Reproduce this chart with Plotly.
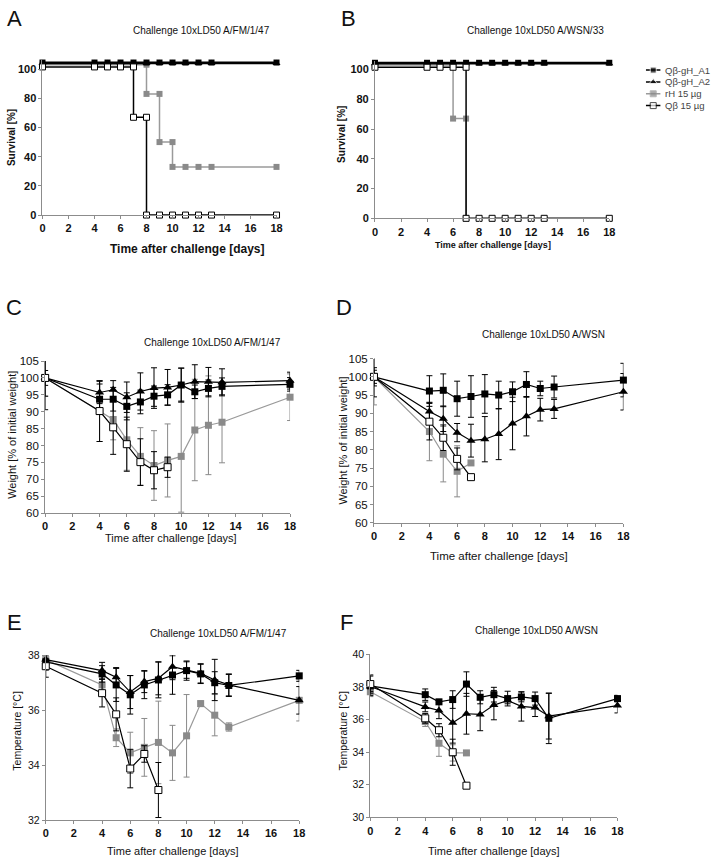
import plotly.graph_objects as go

W, H = 716, 868
FONT = "Liberation Sans, Arial, sans-serif"

SERIES = ["Qβ-gH_A1", "Qβ-gH_A2", "rH 15 µg", "Qβ 15 µg"]

DAYS = [0, 4, 5, 6, 7, 8, 9, 10, 11, 12, 13, 18]
X_TICKS = [0, 2, 4, 6, 8, 10, 12, 14, 16, 18]

# ---------------- Panel A: survival, A/FM/1/47 ----------------
sA_A1 = [104.5, 104.5, 104.5, 104.5, 104.5, 104.5, 104.5, 104.5, 104.5, 104.5, 104.5, 104.5]
sA_A2 = [104, 104, 104, 104, 104, 104, 104, 104, 104, 104, 104, 104]
sA_rH_days = [0, 4, 5, 6, 7, 8, 8, 9, 9, 10, 10, 11, 12, 13, 18]
sA_rH = [103, 103, 103, 103, 103, 103, 83, 83, 50, 50, 33, 33, 33, 33, 33]
sA_Qb_days = [0, 4, 5, 6, 7, 7, 8, 8, 9, 10, 11, 12, 13, 18]
sA_Qb = [101.5, 101.5, 101.5, 101.5, 101.5, 67, 67, 0, 0, 0, 0, 0, 0, 0]

# ---------------- Panel B: survival, A/WSN/33 ----------------
sB_A1 = [104.5, 104.5, 104.5, 104.5, 104.5, 104.5, 104.5, 104.5, 104.5, 104.5, 104.5, 104.5]
sB_A2 = [104, 104, 104, 104, 104, 104, 104, 104, 104, 104, 104, 104]
sB_rH_days = [0, 4, 5, 6, 6, 7, 7]
sB_rH = [103, 103, 103, 103, 67, 67, 0]
sB_Qb_days = [0, 4, 5, 6, 7, 7, 8, 9, 10, 11, 12, 13, 18]
sB_Qb = [101.5, 101.5, 101.5, 101.5, 101.5, 0, 0, 0, 0, 0, 0, 0, 0]

# ---------------- Panel C: weight, A/FM/1/47 ----------------
wC_A1 = [100, 93.7, 93.7, 91.6, 92.9, 94.6, 95.0, 97.9, 95.9, 96.9, 97.5, 98.1]
wC_A1_err = [2.2, 4.5, 3.5, 4.0, 3.5, 3.0, 3.0, 5.0, 2.0, 2.5, 2.5, 2.0]
wC_A2 = [100, 95.7, 96.5, 94.3, 96.0, 97.0, 97.2, 97.9, 98.9, 98.9, 98.7, 99.2]
wC_A2_err = [5.4, 3.3, 2.7, 4.5, 5.5, 6.0, 5.3, 5.0, 5.0, 4.2, 4.0, 2.5]
wC_rH = [100, 90.2, 87.7, 81.7, 76.8, 74.1, 75.6, 76.8, 84.6, 86.0, 86.9, 94.3]
wC_rH_err = [5.4, 9.0, 6.0, 9.0, 8.5, 10.3, 10.8, 16.5, 15.0, 14.6, 12.0, 6.9]
wC_Qb_days = [0, 4, 5, 6, 7, 8, 9]
wC_Qb = [100, 90.2, 85.4, 80.4, 75.1, 72.7, 73.6]
wC_Qb_err = [9.4, 9.0, 8.0, 8.0, 6.9, 5.5, 3.0]

# ---------------- Panel D: weight, A/WSN ----------------
wD_A1 = [100, 96.1, 96.3, 94.0, 94.6, 95.3, 95.0, 95.9, 97.9, 96.8, 97.2, 99.1]
wD_A1_err = [1.8, 4.2, 4.5, 4.8, 5.7, 5.3, 3.8, 2.7, 3.5, 2.0, 3.0, 4.6]
wD_A2 = [100, 90.5, 88.5, 84.7, 82.5, 82.9, 84.3, 87.2, 89.2, 91.0, 91.2, 95.9]
wD_A2_err = [5.5, 2.5, 3.5, 2.5, 4.5, 6.2, 7.0, 7.2, 5.4, 3.1, 2.6, 5.0]
wD_rH_days = [0, 4, 5, 6, 7]
wD_rH = [100, 85.0, 78.8, 74.1, 76.4]
wD_rH_err = [7.7, 8.0, 7.6, 7.0, 0]
wD_Qb_days = [0, 4, 5, 6, 7]
wD_Qb = [100, 87.7, 83.3, 77.5, 72.5]
wD_Qb_err = [2.5, 5.0, 3.5, 3.0, 0]

# ---------------- Panel E: temperature, A/FM/1/47 ----------------
tE_A1 = [37.76, 37.32, 36.92, 36.56, 36.92, 37.10, 37.28, 37.44, 37.32, 37.0, 36.9, 37.25]
tE_A1_err = [0.3, 0.3, 0.6, 0.7, 0.5, 0.65, 0.7, 0.35, 0.35, 0.4, 0.4, 0.2]
tE_A2 = [37.84, 37.44, 37.20, 36.66, 37.04, 37.16, 37.58, 37.46, 37.34, 37.1, 36.92, 36.36]
tE_A2_err = [0.2, 0.3, 0.35, 0.6, 0.4, 0.6, 0.47, 0.3, 0.35, 0.75, 0.4, 0.5]
tE_rH = [37.84, 36.92, 35.0, 34.45, 34.65, 34.83, 34.45, 35.07, 36.24, 35.82, 35.39, 36.36]
tE_rH_err = [0.2, 0.3, 0.32, 0.75, 1.05, 1.5, 1.0, 1.5, 0.1, 0.75, 0.15, 0.75]
tE_Qb_days = [0, 4, 5, 6, 7, 8]
tE_Qb = [37.6, 36.62, 35.85, 33.88, 34.41, 33.1]
tE_Qb_err = [0.4, 0.5, 0.6, 0.7, 0.3, 1.0]

# ---------------- Panel F: temperature, A/WSN ----------------
tF_A1 = [38.06, 37.52, 37.08, 37.22, 38.17, 37.36, 37.52, 37.28, 37.38, 37.28, 36.07, 37.28]
tF_A1_err = [0.6, 0.35, 0.15, 0.54, 0.75, 0.4, 0.45, 0.45, 0.3, 0.4, 1.55, 0.2]
tF_A2 = [38.02, 36.77, 36.55, 35.8, 36.35, 36.31, 36.88, 37.16, 36.8, 36.73, 36.2, 36.85]
tF_A2_err = [0.3, 0.3, 0.5, 1.25, 1.25, 1.0, 0.9, 0.2, 0.9, 0.55, 1.4, 0.45]
tF_rH_days = [0, 4, 5, 6, 7]
tF_rH = [37.7, 35.87, 34.54, 33.95, 33.95]
tF_rH_err = [0.3, 0.3, 0.8, 0.5, 0]
tF_Qb_days = [0, 4, 5, 6, 7]
tF_Qb = [38.17, 36.07, 35.34, 33.99, 31.94]
tF_Qb_err = [0.56, 0.3, 0.4, 0.8, 0]

BLACK = "#000000"
GRAY_M = "#8a8a8a"
GRAY_L = "#9a9a9a"
AXIS = "#8c8c8c"

STYLE = {
    0: dict(line=BLACK, marker=dict(symbol="square", size=7, color=BLACK), err=BLACK),
    1: dict(line=BLACK, marker=dict(symbol="triangle-up", size=8, color=BLACK), err=BLACK),
    2: dict(line=GRAY_L, marker=dict(symbol="square", size=7, color=GRAY_M), err=GRAY_M),
    3: dict(line=BLACK, marker=dict(symbol="square", size=7, color="white",
                                    line=dict(color=BLACK, width=1)), err=BLACK),
}

# panel geometry (pixels): x0,x1 of plot, y_top,y_bottom of plot
panels = [
    dict(letter="A", title="Challenge 10xLD50 A/FM/1/47", px=(40, 277), py=(55.1, 212),
         yr=(0, 106), yt=[0, 20, 40, 60, 80, 100], ytitle="Survival [%]",
         series=[(DAYS, sA_A1, None), (DAYS, sA_A2, None), (sA_rH_days, sA_rH, None), (sA_Qb_days, sA_Qb, None)],
         surv=True, tpos=(201, 25), lpos=(12, 13), xt=(187, 246, 12, True), yl=(8, 133, 10, True),
         ytf=(11, True)),
    dict(letter="B", title="Challenge 10xLD50 A/WSN/33", px=(376.7, 614), py=(55.3, 215.3),
         yr=(0, 106), yt=[0, 20, 40, 60, 80, 100], ytitle="Survival [%]",
         series=[(DAYS, sB_A1, None), (DAYS, sB_A2, None), (sB_rH_days, sB_rH, None), (sB_Qb_days, sB_Qb, None)],
         surv=True, tpos=(539, 25), lpos=(350, 13), xt=(496, 242, 9, True), yl=(343, 130, 10, True),
         ytf=(11, True)),
    dict(letter="C", title="Challenge 10xLD50 A/FM/1/47", px=(42.7, 290.7), py=(360, 514.3),
         yr=(60, 105), yt=[60, 65, 70, 75, 80, 85, 90, 95, 100, 105], ytitle="Weight [% of initial weight]",
         series=[(DAYS, wC_A1, wC_A1_err), (DAYS, wC_A2, wC_A2_err), (DAYS, wC_rH, wC_rH_err), (wC_Qb_days, wC_Qb, wC_Qb_err)],
         surv=False, tpos=(212, 341), lpos=(11, 306), xt=(170, 539, 11, False), yl=(9, 435, 11, False),
         ytf=(11.5, False)),
    dict(letter="D", title="Challenge 10xLD50 A/WSN", px=(375.7, 628.3), py=(357.5, 524),
         yr=(60, 105), yt=[60, 65, 70, 75, 80, 85, 90, 95, 100, 105], ytitle="Weight [% of initial weight]",
         series=[(DAYS, wD_A1, wD_A1_err), (DAYS, wD_A2, wD_A2_err), (wD_rH_days, wD_rH, wD_rH_err), (wD_Qb_days, wD_Qb, wD_Qb_err)],
         surv=False, tpos=(547, 333), lpos=(345, 306), xt=(502, 558, 11.5, False), yl=(344, 441, 11, False),
         ytf=(11.5, False)),
    dict(letter="E", title="Challenge 10xLD50 A/FM/1/47", px=(43.3, 300), py=(658.3, 825.7),
         yr=(32, 38), yt=[32, 34, 36, 38], ytitle="Temperature [°C]",
         series=[(DAYS, tE_A1, tE_A1_err), (DAYS, tE_A2, tE_A2_err), (DAYS, tE_rH, tE_rH_err), (tE_Qb_days, tE_Qb, tE_Qb_err)],
         surv=False, tpos=(218, 636), lpos=(12, 625), xt=(172, 857, 11, False), yl=(14, 735, 10.5, False),
         ytf=(10.5, False)),
    dict(letter="F", title="Challenge 10xLD50 A/WSN", px=(372, 622.3), py=(657.3, 822.7),
         yr=(30, 40), yt=[30, 32, 34, 36, 38, 40], ytitle="Temperature [°C]",
         series=[(DAYS, tF_A1, tF_A1_err), (DAYS, tF_A2, tF_A2_err), (tF_rH_days, tF_rH, tF_rH_err), (tF_Qb_days, tF_Qb, tF_Qb_err)],
         surv=False, tpos=(540, 633), lpos=(348, 625), xt=(497, 857, 11, False), yl=(344, 735, 10.5, False),
         ytf=(10.5, False)),
]

fig = go.Figure()
annotations = []
layout_axes = {}
DRAW_ORDER = [2, 1, 0, 3]  # rH, A2, A1, Qβ (Qβ on top)

for i, p in enumerate(panels):
    n = "" if i == 0 else str(i + 1)
    xa, ya = "x" + n, "y" + n
    for k in DRAW_ORDER:
        xs, ys, err = p["series"][k]
        st = STYLE[k]
        lw = 1.2
        if p["surv"]:
            lw = 2.2 if k in (0, 1) else 1.5
        tr = go.Scatter(
            x=xs, y=ys, mode="lines+markers", name=SERIES[k],
            xaxis=xa, yaxis=ya, cliponaxis=False,
            line=dict(color=st["line"], width=lw),
            marker=dict(st["marker"], size=st["marker"]["size"] - (1 if p["surv"] else 0)),
            showlegend=False,
        )
        if err is not None:
            tr.error_y = dict(type="data", array=err, symmetric=True, color=st["err"],
                              thickness=1, width=3, visible=True)
        fig.add_trace(tr)

    xd = [p["px"][0] / W, p["px"][1] / W]
    yd = [1 - p["py"][1] / H, 1 - p["py"][0] / H]
    axis_common = dict(showline=True, linecolor=AXIS, linewidth=1, ticks="outside",
                       ticklen=3, tickcolor=AXIS, tickwidth=1, showgrid=False, zeroline=False)
    layout_axes["xaxis" + n] = dict(axis_common, domain=xd, range=[0, 18], tickvals=X_TICKS,
                                    anchor=ya,
                                    tickfont=dict(family=FONT, size=11, color="#111", weight="bold"))
    layout_axes["yaxis" + n] = dict(axis_common, domain=yd, range=list(p["yr"]), tickvals=p["yt"],
                                    anchor=xa,
                                    tickfont=dict(family=FONT, size=p["ytf"][0], color="#111",
                                                  weight="bold" if p["ytf"][1] else "normal"))

    annotations.append(dict(text=p["title"], x=p["tpos"][0] / W, y=1 - p["tpos"][1] / H,
                            xref="paper", yref="paper", xanchor="center", yanchor="middle",
                            showarrow=False, font=dict(family=FONT, size=10, color="#111")))
    annotations.append(dict(text=p["letter"], x=p["lpos"][0] / W, y=1 - p["lpos"][1] / H,
                            xref="paper", yref="paper", xanchor="center", yanchor="middle",
                            showarrow=False, font=dict(family=FONT, size=22, color="#111")))
    xt = p["xt"]
    annotations.append(dict(text="Time after challenge [days]", x=xt[0] / W, y=1 - xt[1] / H,
                            xref="paper", yref="paper", xanchor="center", yanchor="middle",
                            showarrow=False,
                            font=dict(family=FONT, size=xt[2], color="#111",
                                      weight="bold" if xt[3] else "normal")))
    yl = p["yl"]
    annotations.append(dict(text=p["ytitle"], x=yl[0] / W, y=1 - yl[1] / H, textangle=-90,
                            xref="paper", yref="paper", xanchor="center", yanchor="middle",
                            showarrow=False,
                            font=dict(family=FONT, size=yl[2], color="#111",
                                      weight="bold" if yl[3] else "normal")))

# ---- compact legend (drawn on an auxiliary hidden axis, 12 px per row) ----
LEG_X = [0, 0.5, 1]
for k in range(4):
    st = STYLE[k]
    mk = dict(st["marker"])
    mk["size"] = [0, st["marker"]["size"] - 1, 0]
    fig.add_trace(go.Scatter(
        x=LEG_X, y=[k + 1, k + 1, k + 1], mode="lines+markers", xaxis="x7", yaxis="y7",
        line=dict(color=st["line"], width=1.5), marker=mk, showlegend=False,
        hoverinfo="skip", cliponaxis=False))
    annotations.append(dict(text=SERIES[k], x=1, y=k + 1, xref="x7", yref="y7",
                            xanchor="left", yanchor="middle", xshift=2, showarrow=False,
                            font=dict(family=FONT, size=9.5, color="#444")))
layout_axes["xaxis7"] = dict(domain=[651 / W, 666 / W], range=[0, 1], visible=False,
                             anchor="y7", fixedrange=True)
layout_axes["yaxis7"] = dict(domain=[1 - 107 / H, 1 - 59 / H], range=[4.5, 0.5], visible=False,
                             anchor="x7", fixedrange=True)

fig.update_layout(
    width=W, height=H, margin=dict(l=0, r=0, t=0, b=0),
    paper_bgcolor="white", plot_bgcolor="rgba(0,0,0,0)",
    font=dict(family=FONT, color="#111"),
    annotations=annotations,
    showlegend=False,
    **layout_axes,
)

fig.write_html("out.html", config={"displayModeBar": False},
               post_script="document.body.style.margin='0px';document.body.style.overflow='hidden';")
